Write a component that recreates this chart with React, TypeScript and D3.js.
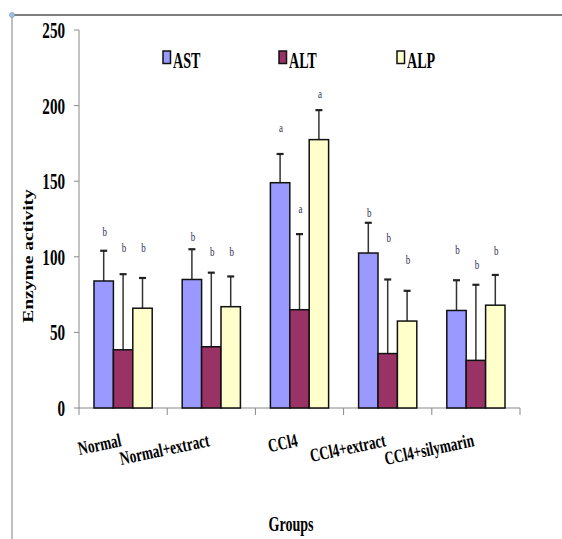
import React from "react";
import * as d3 from "d3";

const groups = ["Normal", "Normal+extract", "CCl4", "CCl4+extract", "CCl4+silymarin"];
const series = ["AST", "ALT", "ALP"];
const colors = ["#9999FF", "#993366", "#FFFFCC"];

// means and standard deviations
const astMean = [84, 85, 149, 102.5, 64.5];
const altMean = [38.5, 40.5, 65, 36, 31.5];
const alpMean = [66, 67, 177.5, 57.5, 68];
const astSd = [20, 20, 19, 20, 20];
const altSd = [50, 49, 50, 49, 50];
const alpSd = [20, 20, 19.5, 20, 20];

// significance letters and the level (in enzyme units) where each sits
const astSig = ["b", "b", "a", "b", "b"];
const altSig = ["b", "b", "a", "b", "b"];
const alpSig = ["b", "b", "a", "b", "b"];
const astSigAt = [116.5, 113, 185, 129, 104.5];
const altSigAt = [106, 103, 131.5, 112.5, 94.5];
const alpSigAt = [106, 103, 207.5, 98, 104];

const yTicks = [0, 50, 100, 150, 200, 250];

const FONT = "'Liberation Serif', 'Times New Roman', serif";

const means = [astMean, altMean, alpMean];
const sds = [astSd, altSd, alpSd];
const sigs = [astSig, altSig, alpSig];
const sigAt = [astSigAt, altSigAt, alpSigAt];

export default function App() {
  const x0 = d3.scaleBand().domain(groups).range([79, 520]);
  const bw = x0.bandwidth();
  const x1 = d3.scaleBand().domain(series).range([bw * 0.17, bw * 0.83]);
  const y = d3.scaleLinear().domain([0, 250]).range([408, 30]);

  const legendX = [163, 279, 397];

  return (
    <svg
      width={562}
      height={539}
      style={{ position: "absolute", left: 0, top: 0, background: "#fff" }}
    >
      {/* frame */}
      <line x1={12} y1={15} x2={562} y2={15} stroke="#555" strokeWidth={1.5} />
      <line x1={12} y1={15} x2={12} y2={539} stroke="#aaa" strokeWidth={1.5} />
      <circle cx={12} cy={15} r={2.5} fill="#9fc3e0" stroke="#7aa3c8" strokeWidth={0.8} />

      {/* y axis */}
      <line x1={79} y1={y(250)} x2={79} y2={y(0)} stroke="#888" strokeWidth={1} />
      {yTicks.map((t) => (
        <g key={t}>
          <line x1={74} x2={79} y1={y(t)} y2={y(t)} stroke="#888" />
          <text
            transform={`translate(65,${y(t) + 8}) scale(0.72,1.08)`}
            textAnchor="end"
            fontFamily={FONT}
            fontWeight="bold"
            fontSize={21}
          >
            {t}
          </text>
        </g>
      ))}

      {/* x axis */}
      <line x1={79} y1={y(0)} x2={520} y2={y(0)} stroke="#888" strokeWidth={1} />
      {groups.concat([""]).map((g, i) => {
        const xx = 79 + i * bw;
        return <line key={i} x1={xx} x2={xx} y1={y(0)} y2={y(0) + 7} stroke="#888" />;
      })}

      {/* bars */}
      {groups.map((g, gi) => (
        <g key={g} transform={`translate(${x0(g)},0)`}>
          {series.map((s, si) => {
            const m = means[si][gi];
            const top = m + sds[si][gi];
            const bx = x1(s)!;
            const cx = bx + x1.bandwidth() / 2;
            return (
              <g key={s}>
                <line x1={cx} x2={cx} y1={y(m)} y2={y(top)} stroke="#333" strokeWidth={1.5} />
                <line x1={cx - 3.5} x2={cx + 3.5} y1={y(top)} y2={y(top)} stroke="#222" strokeWidth={2.2} />
                <rect
                  x={bx}
                  y={y(m)}
                  width={x1.bandwidth()}
                  height={y(0) - y(m)}
                  fill={colors[si]}
                  stroke="#111"
                  strokeWidth={1.5}
                />
                <text
                  transform={`translate(${cx + 1},${y(sigAt[si][gi]) + 4}) scale(0.75,1.1)`}
                  textAnchor="middle"
                  fontFamily={FONT}
                  fontSize={12}
                  fill="#2d2d55"
                >
                  {sigs[si][gi]}
                </text>
              </g>
            );
          })}
        </g>
      ))}

      {/* category labels */}
      {groups.map((g) => (
        <text
          key={g}
          transform={`translate(${x0(g)! + bw / 2 - 1},446) rotate(-12) scale(0.76,1.08)`}
          textAnchor="end"
          fontFamily={FONT}
          fontWeight="bold"
          fontSize={17.5}
        >
          {g}
        </text>
      ))}

      {/* axis titles */}
      <text
        transform="translate(291,531) scale(0.74,1.08)"
        textAnchor="middle"
        fontFamily={FONT}
        fontWeight="bold"
        fontSize={19}
      >
        Groups
      </text>
      <text
        transform="translate(33,256) rotate(-90) scale(1.3,1)"
        textAnchor="middle"
        fontFamily={FONT}
        fontWeight="bold"
        fontSize={15}
      >
        Enzyme activity
      </text>

      {/* legend */}
      {series.map((s, i) => (
        <g key={s}>
          <rect
            x={legendX[i]}
            y={51}
            width={7.5}
            height={12.5}
            fill={colors[i]}
            stroke="#111"
            strokeWidth={1.5}
          />
          <text
            transform={`translate(${legendX[i] + 10},67.5) scale(0.64,1.08)`}
            fontFamily={FONT}
            fontWeight="bold"
            fontSize={22}
          >
            {s}
          </text>
        </g>
      ))}
    </svg>
  );
}
